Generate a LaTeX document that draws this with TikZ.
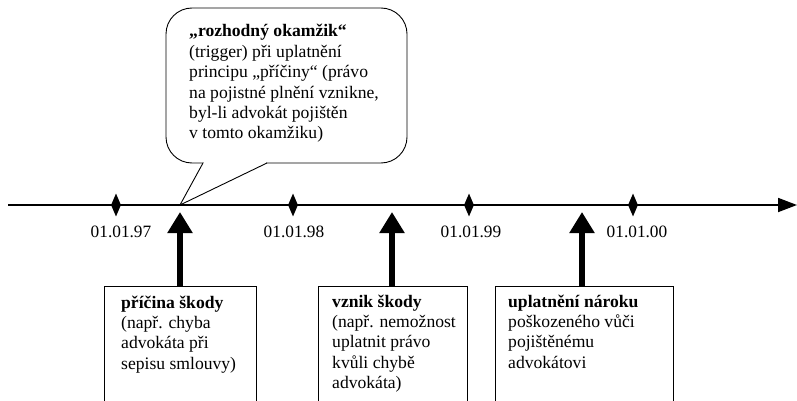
\documentclass[tikz,border=0pt]{standalone}
\usepackage{fontspec}
\setmainfont{Liberation Serif}
\usetikzlibrary{arrows.meta,shapes.geometric}
\begin{document}
\begin{tikzpicture}[x=1pt,y=-1pt,
  txt/.style={font=\fontsize{17.6}{20.4}\selectfont, align=left, inner sep=0pt, anchor=base west},
  evbox/.style={draw, line width=0.9pt, anchor=north west, minimum height=140pt, inner sep=0pt},
  tick/.style={diamond, fill=black, minimum width=10pt, minimum height=23pt, inner sep=0pt},
  datelbl/.style={font=\fontsize{17.3}{20.4}\selectfont, anchor=base, inner sep=0pt},
  evarrow/.style={line width=6pt, -{Triangle[length=21pt,width=24pt]}},
  thin/.style={line width=0.9pt}
]
\useasboundingbox (0,0) rectangle (797,401);
\clip (0,0) rectangle (797,401);

% callout
\node[draw, thin, fill=white, rounded corners=26pt, minimum width=241pt, minimum height=155pt, inner sep=0pt] (call) at (286.5,85.5) {};
\coordinate (tip) at (180,205);
\coordinate (p1) at (203,163);
\coordinate (p2) at (267,163);
\fill[white] (p1) -- (tip) -- (p2) -- cycle;
\fill[white] (204,161.4) rectangle (266,163.6);
\draw[thin] (p1) -- (tip) -- (p2);
% anchor = baseline of the last line
\node[txt] (ct) at (189,139) {\textbf{„rozhodný okamžik“}\\(trigger) při uplatnění\\principu „příčiny“ (právo\\na pojistné plnění vznikne,\\byl-li advokát pojištěn\\v tomto okamžiku)};

% timeline
\coordinate (tlstart) at (8,205);
\coordinate (tlend) at (797,205);
\draw[line width=1.8pt, -{Triangle[length=19pt,width=14pt]}] (tlstart) -- (tlend);

\node[tick] (d97) at (116,205) {};
\node[tick] (d98) at (293,205) {};
\node[tick] (d99) at (469,205) {};
\node[tick] (d00) at (633,205) {};
\node[datelbl] (l97) at (121,237) {01.01.97};
\node[datelbl] (l98) at (294,237) {01.01.98};
\node[datelbl] (l99) at (471,237) {01.01.99};
\node[datelbl] (l00) at (637,237) {01.01.00};

% events
\coordinate (e1) at (180,212);
\coordinate (e2) at (392,212);
\coordinate (e3) at (582,212);
\node[evbox, minimum width=152pt] (b1) at (104,286) {};
\node[evbox, minimum width=149pt] (b2) at (318,286) {};
\node[evbox, minimum width=178pt] (b3) at (495,286) {};
\draw[evarrow] (e1 |- b1.north) -- (e1);
\draw[evarrow] (e2 |- b2.north) -- (e2);
\draw[evarrow] (e3 |- b3.north) -- (e3);

\node[txt] (t1) at (121,369.2) {\textbf{příčina škody}\\(např. chyba\\advokáta při\\sepisu smlouvy)};
\node[txt] (t2) at (332,388.6) {\textbf{vznik škody}\\(např. nemožnost\\uplatnit právo\\kvůli chybě\\advokáta)};
\node[txt] (t3) at (508,368.2) {\textbf{uplatnění nároku}\\poškozeného vůči\\pojištěnému\\advokátovi};
\end{tikzpicture}
\end{document}
